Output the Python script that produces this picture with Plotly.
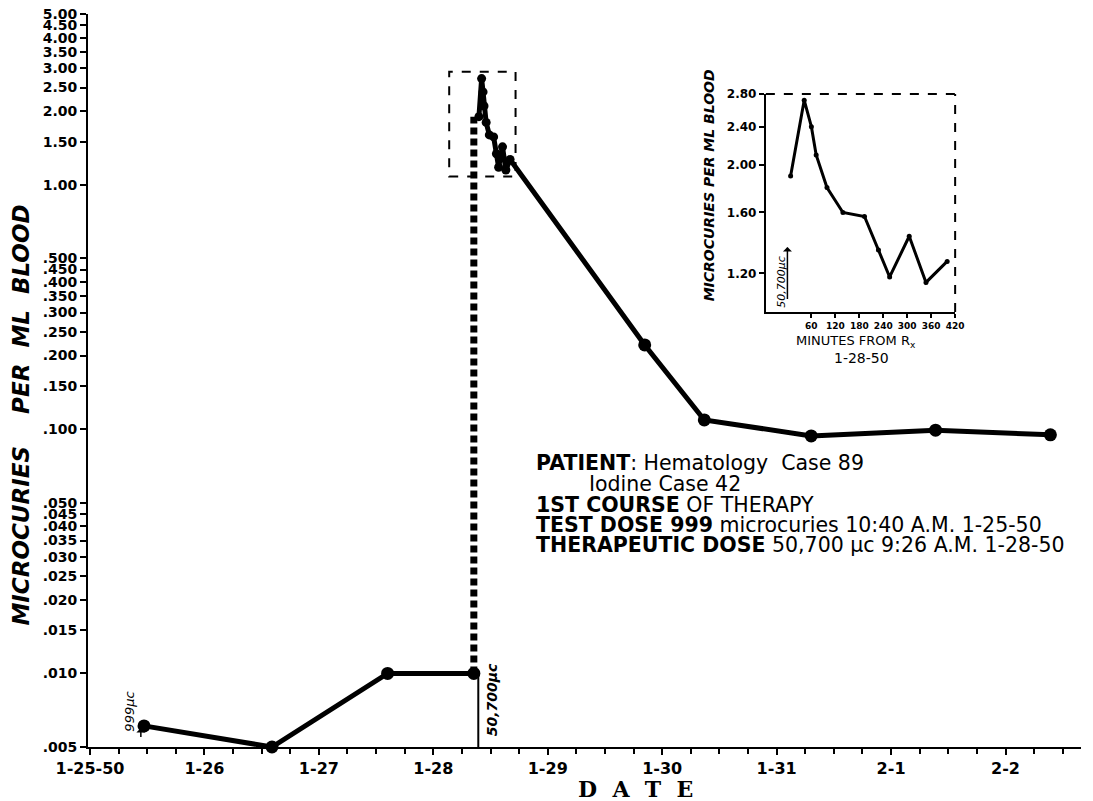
import math
import pandas as pd
import plotly.graph_objects as go

# ---------------- data ----------------
pre_dates = ["1950-01-25 11:20", "1950-01-26 14:10", "1950-01-27 14:25", "1950-01-28 08:30"]
pre_values = [0.0061, 0.0050, 0.0100, 0.0100]

test_dose_time = "1950-01-25 10:40"
therapeutic_dose_time = "1950-01-28 09:26"

inset_minutes = [8, 42, 60, 72, 99, 139, 193, 228, 256, 305, 347, 400]
inset_values = [1.90, 2.72, 2.40, 2.10, 1.80, 1.60, 1.57, 1.34, 1.18, 1.43, 1.15, 1.27]

late_dates = ["1950-01-29 20:20", "1950-01-30 08:50", "1950-01-31 07:15",
              "1950-02-01 09:20", "1950-02-02 09:25"]
late_values = [0.221, 0.109, 0.0938, 0.099, 0.0948]

x_tick_dates = ["1950-01-25", "1950-01-26", "1950-01-27", "1950-01-28", "1950-01-29",
                "1950-01-30", "1950-01-31", "1950-02-01", "1950-02-02"]
x_tick_labels = ["1-25-50", "1-26", "1-27", "1-28", "1-29", "1-30", "1-31", "2-1", "2-2"]

y_tick_values = [5, 4.5, 4, 3.5, 3, 2.5, 2, 1.5, 1,
                 0.5, 0.45, 0.4, 0.35, 0.3, 0.25, 0.2, 0.15, 0.1,
                 0.05, 0.045, 0.04, 0.035, 0.03, 0.025, 0.02, 0.015, 0.01, 0.005]
y_tick_labels = ["5.00", "4.50", "4.00", "3.50", "3.00", "2.50", "2.00", "1.50", "1.00",
                 ".500", ".450", ".400", ".350", ".300", ".250", ".200", ".150", ".100",
                 ".050", ".045", ".040", ".035", ".030", ".025", ".020", ".015", ".010", ".005"]

inset_x_ticks = [60, 120, 180, 240, 300, 360, 420]
inset_y_ticks = [1.20, 1.60, 2.00, 2.40, 2.80]
inset_y_labels = ["1.20", "1.60", "2.00", "2.40", "2.80"]

# ---------------- layout geometry ----------------
W, H = 1093, 801
L, R, T, B = 88, 3, 14, 54
PW, PH = W - L - R, H - T - B


def px(x):
    return (x - L) / PW


def py(y):
    return (H - B - y) / PH


dose = pd.Timestamp(therapeutic_dose_time)
post_times = [(dose + pd.Timedelta(minutes=m)).strftime("%Y-%m-%d %H:%M") for m in inset_minutes]
post_x = post_times + late_dates
post_y = inset_values + late_values

FONT = "DejaVu Sans"
NB = "\u00a0"

fig = go.Figure()

# dotted jump at therapeutic dose
fig.add_trace(go.Scatter(
    x=[pre_dates[-1], pre_dates[-1]], y=[pre_values[-1], inset_values[0]],
    mode="lines", line=dict(color="black", width=7, dash="7px,4px"),
    hoverinfo="skip", showlegend=False))

# before therapeutic dose
fig.add_trace(go.Scatter(
    x=pre_dates, y=pre_values, mode="lines+markers",
    line=dict(color="black", width=5),
    marker=dict(color="black", size=13, opacity=1, line=dict(width=0)),
    cliponaxis=False, showlegend=False))

# after therapeutic dose: line
fig.add_trace(go.Scatter(
    x=post_x, y=post_y, mode="lines",
    line=dict(color="black", width=5),
    cliponaxis=False, showlegend=False))
# markers on peak cluster
fig.add_trace(go.Scatter(
    x=post_times, y=inset_values, mode="markers",
    marker=dict(color="black", size=9, opacity=1, line=dict(width=0)),
    cliponaxis=False, showlegend=False))
# markers on later days
fig.add_trace(go.Scatter(
    x=late_dates, y=late_values, mode="markers",
    marker=dict(color="black", size=13, opacity=1, line=dict(width=0)),
    cliponaxis=False, showlegend=False))

# inset
fig.add_trace(go.Scatter(
    x=inset_minutes, y=inset_values, mode="lines+markers",
    line=dict(color="black", width=3),
    marker=dict(color="black", size=5, opacity=1, line=dict(width=0)),
    xaxis="x2", yaxis="y2", showlegend=False))

shapes = [
    dict(type="rect", xref="x", yref="y", x0="1950-01-28 03:20", x1="1950-01-28 17:15",
         y0=1.08, y1=2.9, line=dict(color="black", width=2, dash="dash")),
    dict(type="line", xref="x", yref="y", x0=therapeutic_dose_time, x1=therapeutic_dose_time,
         y0=0.005, y1=0.0100, line=dict(color="black", width=2)),
    dict(type="line", xref="x2 domain", yref="y2 domain", x0=0, x1=1, y0=1, y1=1,
         line=dict(color="black", width=2, dash="dash")),
    dict(type="line", xref="x2 domain", yref="y2 domain", x0=1, x1=1, y0=0, y1=1,
         line=dict(color="black", width=2, dash="dash")),
]


def label(x, y, text, size, angle=0, weight="normal", style="normal", family=FONT,
          xanchor="center"):
    return dict(xref="paper", yref="paper", x=px(x), y=py(y), text=text, textangle=angle,
                xanchor=xanchor, yanchor="middle", showarrow=False,
                font=dict(family=family, size=size, color="black", weight=weight, style=style))


annotations = [
    label(20, 415, "MICROCURIES" + NB * 4 + "PER" + NB * 2 + "ML" + NB * 2 + "BLOOD", 23,
          angle=-90, weight="bold", style="italic"),
    label(640, 789, "D" + NB * 2 + "A" + NB * 2 + "T" + NB * 2 + "E", 22,
          weight="bold", family="DejaVu Serif"),
    dict(xref="x", yref="y", x=test_dose_time, y=math.log10(0.00598), ax=0, ay=19,
         text=" ", showarrow=True, arrowhead=1, arrowsize=1, arrowwidth=1.5, arrowcolor="black"),
    label(129, 712, "999\u03bcc", 13, angle=-90, style="italic"),
    label(496, 700, "50,700\u03bcc", 14, angle=-90, weight="bold", style="italic"),
    dict(xref="x2", yref="y2", x=0, y=math.log10(1.36), ax=0, ay=62,
         text=" ", showarrow=True, arrowhead=1, arrowsize=1, arrowwidth=1.5, arrowcolor="black"),
    label(787, 282, "50,700\u03bcc", 11, angle=-90, style="italic"),
    label(715, 185, "MICROCURIES PER ML BLOOD", 14, angle=-90, weight="bold", style="italic"),
    label(863, 341, "MINUTES FROM R<sub>x</sub>", 13),
    label(869, 358, "1-28-50", 14),
]

text_lines = [
    (538, 463, "<b>PATIENT</b>: Hematology  Case 89"),
    (592, 484, "Iodine Case 42"),
    (538, 505, "<b>1ST COURSE</b> OF THERAPY"),
    (538, 525, "<b>TEST DOSE 999</b> microcuries 10:40 A.M. 1-25-50"),
    (538, 545, "<b>THERAPEUTIC DOSE</b> 50,700 \u03bcc 9:26 A.M. 1-28-50"),
]
for x0, y0, t in text_lines:
    annotations.append(label(x0, y0, t, 20.5, xanchor="left"))

fig.update_layout(
    width=W, height=H,
    margin=dict(l=L, r=R, t=T, b=B),
    paper_bgcolor="white", plot_bgcolor="white",
    showlegend=False,
    xaxis=dict(
        type="date", range=["1950-01-24 23:35", "1950-02-02 15:50"],
        tickmode="array", tickvals=x_tick_dates, ticktext=x_tick_labels,
        ticks="outside", ticklen=6, tickwidth=2, tickcolor="black",
        showline=True, linecolor="black", linewidth=2, showgrid=False, zeroline=False,
        tickfont=dict(family=FONT, size=16, color="black", weight="bold"),
        minor=dict(ticks="outside", ticklen=5, tickwidth=2, tickcolor="black",
                   dtick=6 * 3600 * 1000, tick0="1950-01-25", showgrid=False),
    ),
    yaxis=dict(
        type="log", range=[math.log10(0.005), math.log10(5)],
        tickmode="array", tickvals=y_tick_values, ticktext=y_tick_labels,
        ticks="outside", ticklen=6, tickwidth=2, tickcolor="black",
        showline=True, linecolor="black", linewidth=2, showgrid=False, zeroline=False,
        tickfont=dict(family=FONT, size=14, color="black", weight="bold"),
    ),
    xaxis2=dict(
        domain=[px(772), px(963)], anchor="y2", range=[-54, 420],
        tickmode="array", tickvals=inset_x_ticks,
        ticks="outside", ticklen=4, tickwidth=1.5, tickcolor="black",
        showline=True, linecolor="black", linewidth=2, showgrid=False, zeroline=False,
        tickfont=dict(family=FONT, size=9, color="black", weight="bold"),
    ),
    yaxis2=dict(
        domain=[py(312), py(94)], anchor="x2", type="log", range=[0, math.log10(2.8)],
        tickmode="array", tickvals=inset_y_ticks, ticktext=inset_y_labels,
        ticks="outside", ticklen=5, tickwidth=1.5, tickcolor="black",
        showline=True, linecolor="black", linewidth=2, showgrid=False, zeroline=False,
        tickfont=dict(family=FONT, size=12, color="black", weight="bold"),
    ),
    shapes=shapes,
    annotations=annotations,
)

fig.write_html("out.html", config={"displayModeBar": False},
               post_script="document.body.style.margin='0px';document.body.style.overflow='hidden';")
